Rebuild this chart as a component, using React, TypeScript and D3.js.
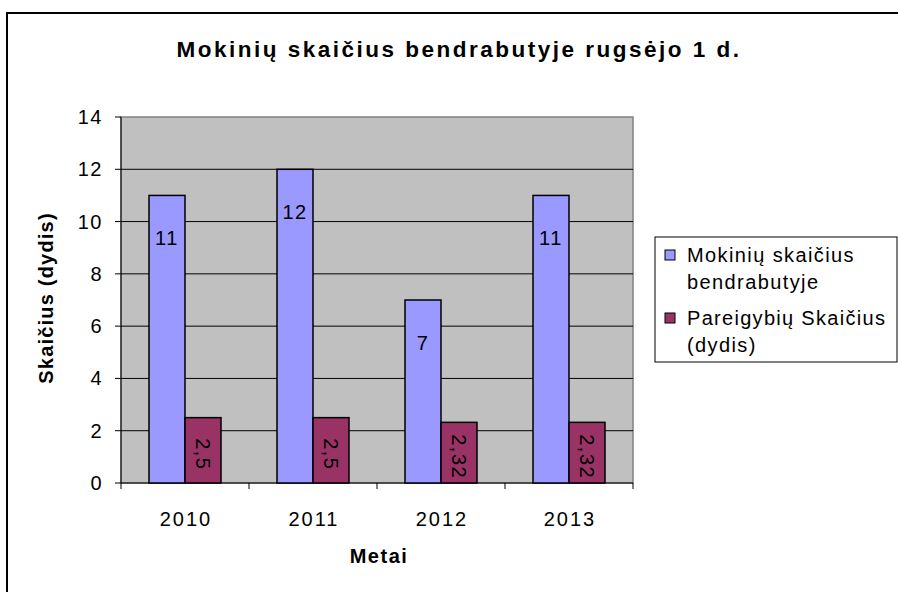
import React from "react";
import * as d3 from "d3";

const years = ["2010", "2011", "2012", "2013"];
const students = [11, 12, 7, 11];
const studentLabels = ["11", "12", "7", "11"];
const duties = [2.5, 2.5, 2.32, 2.32];
const dutyLabels = ["2,5", "2,5", "2,32", "2,32"];
const yTicks = [0, 2, 4, 6, 8, 10, 12, 14];
const seriesNames = ["Mokinių skaičius", "Pareigybių Skaičius"];

const FONT = "'Liberation Sans', Arial, sans-serif";
const BLUE = "#9999FF";
const RED = "#993366";

export default function App() {
  const W = 898, H = 592;
  const left = 121, right = 633, top = 117, bottom = 483;
  const y = d3.scaleLinear().domain([0, 14]).range([bottom, top]);
  const x = d3.scaleBand<string>().domain(years).range([left, right]).paddingInner(0.4375).paddingOuter(0.21875);
  const sub = d3.scaleBand<number>().domain([0, 1]).range([0, x.bandwidth()]);
  const step = x.step();

  return (
    <svg width={W} height={H} style={{ position: "absolute", left: 0, top: 0, background: "#fff" }} fontFamily={FONT}>
      <rect x={7} y={13} width={1000} height={1000} fill="#fff" stroke="#000" strokeWidth={2} />
      <text x={459} y={57} textAnchor="middle" fontSize={22.5} fontWeight="bold" letterSpacing={2.5}>
        Mokinių skaičius bendrabutyje rugsėjo 1 d.
      </text>
      <rect x={left} y={top} width={right - left} height={bottom - top} fill="#C0C0C0" stroke="#808080" strokeWidth={1.5} />
      {yTicks.filter(t => t > 0 && t < 14).map(t => (
        <line key={t} x1={left} x2={right} y1={y(t)} y2={y(t)} stroke="#000" strokeWidth={1} />
      ))}
      <line x1={left} x2={left} y1={top} y2={bottom} stroke="#000" />
      <line x1={left} x2={right} y1={bottom} y2={bottom} stroke="#000" />
      {yTicks.map(t => (
        <g key={t}>
          <line x1={left - 6} x2={left} y1={y(t)} y2={y(t)} stroke="#000" />
          <text x={103} y={y(t) + 7} textAnchor="end" fontSize={20} letterSpacing={1.5}>{t}</text>
        </g>
      ))}
      {years.map((yr, i) => (
        <line key={yr} x1={left + step * i} x2={left + step * i} y1={bottom} y2={bottom + 6} stroke="#000" />
      ))}
      <line x1={right} x2={right} y1={bottom} y2={bottom + 6} stroke="#000" />
      {years.map(yr => (
        <text key={yr} x={(x(yr) as number) + x.bandwidth() / 2 + 1} y={526} textAnchor="middle" fontSize={20} letterSpacing={2}>{yr}</text>
      ))}
      {years.map((yr, i) => {
        const bx = (x(yr) as number) + (sub(0) as number);
        const by = y(students[i]);
        return (
          <g key={"s" + yr}>
            <rect x={bx} y={by} width={sub.bandwidth()} height={bottom - by} fill={BLUE} stroke="#000" strokeWidth={1.5} />
            <text x={bx + sub.bandwidth() / 2} y={by + 50} textAnchor="middle" fontSize={20} letterSpacing={1.5}>{studentLabels[i]}</text>
          </g>
        );
      })}
      {years.map((yr, i) => {
        const bx = (x(yr) as number) + (sub(1) as number);
        const by = y(duties[i]);
        const cx = bx + sub.bandwidth() / 2;
        const cy = (by + bottom) / 2 + 4;
        return (
          <g key={"d" + yr}>
            <rect x={bx} y={by} width={sub.bandwidth()} height={bottom - by} fill={RED} stroke="#000" strokeWidth={1.5} />
            <text transform={`translate(${cx},${cy}) rotate(90)`} textAnchor="middle" dy="0.35em" fontSize={20} letterSpacing={1.5}>{dutyLabels[i]}</text>
          </g>
        );
      })}
      <text x={379} y={563} textAnchor="middle" fontSize={20} fontWeight="bold" letterSpacing={1.5}>Metai</text>
      <text transform="translate(53,298) rotate(-90)" textAnchor="middle" fontSize={20} fontWeight="bold" letterSpacing={1.2}>Skaičius (dydis)</text>
      <rect x={655} y={237} width={242} height={125} fill="#fff" stroke="#000" strokeWidth={1} />
      <rect x={665} y={250} width={10} height={10} fill={BLUE} stroke="#000" strokeWidth={1} />
      <text x={687} y={262} fontSize={20} letterSpacing={1.4}>{seriesNames[0]}</text>
      <text x={687} y={289} fontSize={20} letterSpacing={1.4}>bendrabutyje</text>
      <rect x={665} y={313} width={10} height={10} fill={RED} stroke="#000" strokeWidth={1} />
      <text x={687} y={325} fontSize={20} letterSpacing={1.3}>{seriesNames[1]}</text>
      <text x={687} y={352} fontSize={20} letterSpacing={1.4}>(dydis)</text>
    </svg>
  );
}
